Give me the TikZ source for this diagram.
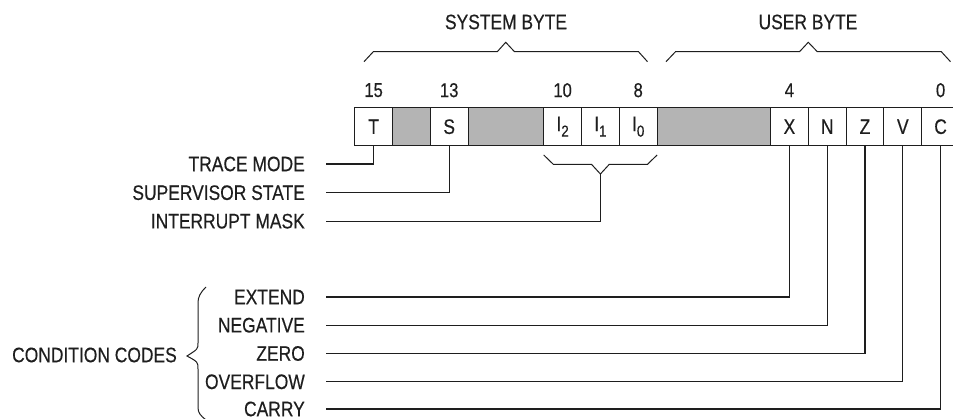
\documentclass[tikz,border=0pt]{standalone}
\usepackage{fontspec}
\setmainfont{Liberation Sans}[FakeStretch=0.83,FakeBold=0.4]
\definecolor{cellgray}{RGB}{180,180,180}
\definecolor{inkc}{RGB}{30,30,30}
\newcommand\lblfont{\fontsize{21}{24}\selectfont}
\newcommand\numfont{\fontsize{20}{22}\selectfont}
\newcommand\subfont{\fontsize{16}{16}\selectfont}
\newcommand\sbs[1]{\raisebox{-0.5ex}{\subfont #1}}
\begin{document}
\begin{tikzpicture}[x=1pt,y=-1pt,
  cell/.style={draw=inkc, line width=1.1pt, fill=white, minimum height=38pt,
    minimum width=37.8pt, inner sep=0pt, font=\lblfont, text=inkc},
  shade/.style={cell, fill=cellgray},
  lbl/.style={anchor=east, inner sep=0pt, font=\lblfont, text=inkc},
  num/.style={inner sep=0pt, font=\numfont, text=inkc},
  wire/.style={draw=inkc, line width=1.1pt},
  brc/.style={draw=inkc, line width=1pt, line join=miter}]
\useasboundingbox (0,0) rectangle (953,419);

% register cells
\node[cell] (b15) at (373.6,126.7) {T};
\node[shade] (g14) at (411.4,126.7) {};
\node[cell] (b13) at (449.2,126.7) {S};
\node[shade, minimum width=75.6pt] (g1211) at (505.9,126.7) {};
\node[cell] (b10) at (562.6,126.7) {I\sbs{2}};
\node[cell] (b9) at (600.4,126.7) {I\sbs{1}};
\node[cell] (b8) at (638.2,126.7) {I\sbs{0}};
\node[shade, minimum width=113.4pt] (g75) at (713.8,126.7) {};
\node[cell] (b4) at (789.4,126.7) {X};
\node[cell] (b3) at (827.2,126.7) {N};
\node[cell] (b2) at (865.0,126.7) {Z};
\node[cell] (b1) at (902.8,126.7) {V};
\node[cell] (b0) at (940.6,126.7) {C};

% bit numbers
\node[num] (n15) at ([yshift=36.5pt]b15.center) {15};
\node[num] (n13) at ([yshift=36.5pt]b13.center) {13};
\node[num] (n10) at ([yshift=36.5pt]b10.center) {10};
\node[num] (n8) at ([yshift=36.5pt]b8.center) {8};
\node[num] (n4) at ([yshift=36.5pt]b4.center) {4};
\node[num] (n0) at ([yshift=36.5pt]b0.center) {0};

% byte headings and braces
\node[num, font=\lblfont] (sys) at (506,22) {SYSTEM BYTE};
\node[num, font=\lblfont] (usr) at (808,22) {USER BYTE};
\draw[brc] (364,61.7) -- (373.3,51.7) -- (497.3,51.7) -- (505.7,42.3)
  -- (514.5,51.7) -- (638.5,51.7) -- (647.5,61.7);
\draw[brc] (666,61.7) -- (675.5,51.7) -- (799.5,51.7) -- (808.3,42.3)
  -- (817.3,51.7) -- (941.3,51.7) -- (950.5,61.7);

% interrupt mask brace
\coordinate (imtip) at (600.4,174);
\draw[brc] (543.7,155) -- (553.3,164.3) -- (591.5,164.3) -- (imtip)
  -- (609.3,164.3) -- (647.5,164.3) -- (657.1,155);

% labels
\node[lbl] (trace) at (305,164) {TRACE MODE};
\node[lbl] (super) at (305,192.7) {SUPERVISOR STATE};
\node[lbl] (intr) at (305,221.2) {INTERRUPT MASK};
\node[lbl] (ext) at (305,297) {EXTEND};
\node[lbl] (neg) at (305,325.2) {NEGATIVE};
\node[lbl] (zer) at (305,353.5) {ZERO};
\node[lbl] (ovf) at (305,381.8) {OVERFLOW};
\node[lbl] (car) at (305,409) {CARRY};
\node[lbl] (cc) at (177,355) {CONDITION CODES};

% connectors
\draw[wire] (b15.south) |- ([xshift=21pt]trace.east);
\draw[wire] (b13.south) |- ([xshift=21pt]super.east);
\draw[wire] (imtip) |- ([xshift=21pt]intr.east);
\draw[wire] (b4.south) |- ([xshift=21pt]ext.east);
\draw[wire] (b3.south) |- ([xshift=21pt]neg.east);
\draw[wire] (b2.south) |- ([xshift=21pt]zer.east);
\draw[wire] (b1.south) |- ([xshift=21pt]ovf.east);
\draw[wire] (b0.south) |- ([xshift=21pt]car.east);

% condition codes brace
\draw[brc] (206,287) .. controls (200,293) and (198,297) .. (198,303)
  -- (198,343) .. controls (198,349) .. (187,356)
  .. controls (198,362) .. (198,369)
  -- (198,407) .. controls (198,413) and (200,415) .. (206,420);
\end{tikzpicture}
\end{document}
